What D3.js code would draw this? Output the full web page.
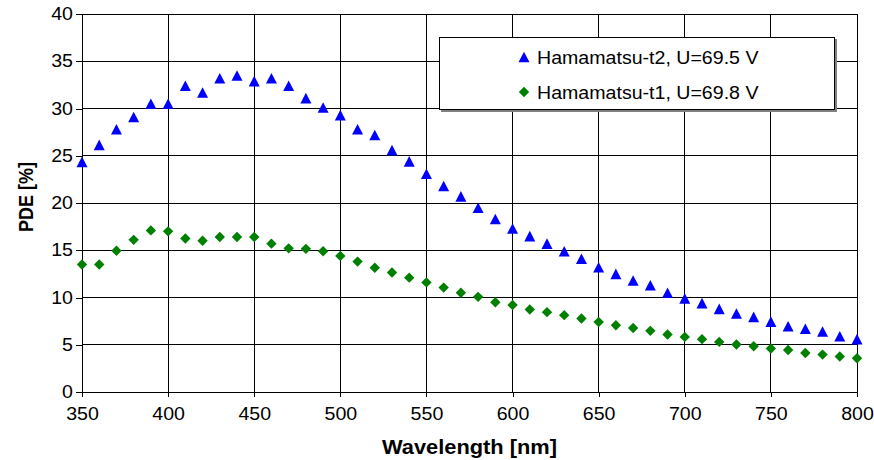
<!DOCTYPE html>
<html>
<head>
<meta charset="utf-8">
<script src="https://cdn.jsdelivr.net/npm/d3@7"></script>
<style>
  html, body { margin: 0; padding: 0; background: #fff; }
  svg { display: block; font-family: "Liberation Sans", Arial, sans-serif; }
</style>
</head>
<body>
<svg id="chart" width="874" height="460"></svg>
<script>
// Photon detection efficiency vs. wavelength for two Hamamatsu devices
const wavelengths = [350,360,370,380,390,400,410,420,430,440,450,460,470,480,490,500,
  510,520,530,540,550,560,570,580,590,600,610,620,630,640,650,660,670,680,690,700,
  710,720,730,740,750,760,770,780,790,800];

const pdeT2 = [24.35,26.15,27.8,29.1,30.5,30.5,32.4,31.7,33.2,33.5,32.9,33.2,32.4,31.1,30.1,29.3,
  27.8,27.2,25.6,24.4,23.1,21.8,20.7,19.5,18.3,17.3,16.5,15.7,14.9,14.1,13.2,12.5,11.8,11.3,10.5,9.9,
  9.4,8.8,8.3,7.95,7.45,6.95,6.7,6.4,5.9,5.6];

const pdeT1 = [13.5,13.5,14.95,16.1,17.1,17.0,16.25,16.0,16.4,16.4,16.4,15.7,15.2,15.15,14.9,14.4,
  13.8,13.15,12.65,12.1,11.6,11.05,10.5,10.07,9.5,9.2,8.73,8.45,8.13,7.78,7.4,7.07,6.78,6.47,6.08,5.83,
  5.59,5.3,5.02,4.84,4.6,4.45,4.13,3.96,3.75,3.57];

const seriesNames = ["Hamamatsu-t2, U=69.5 V", "Hamamatsu-t1, U=69.8 V"];
const xTicks = [350,400,450,500,550,600,650,700,750,800];
const yTicks = [0,5,10,15,20,25,30,35,40];
const xTitle = "Wavelength [nm]";
const yTitle = "PDE [%]";

const svg = d3.select("#chart");
const W = 874, H = 460;
const plot = { left: 82, right: 857, top: 14, bottom: 392 };
const sx = 1.12; // horizontal text stretch

const x = d3.scaleLinear().domain([350, 800]).range([plot.left, plot.right]);
const y = d3.scaleLinear().domain([0, 40]).range([plot.bottom, plot.top]);

svg.append("rect").attr("width", W).attr("height", H).attr("fill", "#fff");

// grid
const grid = svg.append("g").attr("shape-rendering", "crispEdges")
  .attr("stroke", "#000").attr("stroke-width", 1);
grid.selectAll("line.h").data(yTicks).join("line")
  .attr("x1", plot.left).attr("x2", plot.right)
  .attr("y1", d => y(d)).attr("y2", d => y(d));
grid.selectAll("line.v").data(xTicks).join("line")
  .attr("y1", plot.top).attr("y2", plot.bottom)
  .attr("x1", d => x(d)).attr("x2", d => x(d));

// axes
const xAxis = svg.append("g")
  .attr("transform", `translate(0,${plot.bottom})`)
  .call(d3.axisBottom(x).tickValues(xTicks).tickSize(5).tickPadding(6).tickSizeOuter(0));
const yAxis = svg.append("g")
  .attr("transform", `translate(${plot.left},0)`)
  .call(d3.axisLeft(y).tickValues(yTicks).tickSize(6).tickSizeOuter(0));

[xAxis, yAxis].forEach(a => {
  a.select(".domain").attr("stroke", "#000").attr("shape-rendering", "crispEdges");
  a.selectAll(".tick line").attr("stroke", "#000").attr("shape-rendering", "crispEdges");
  a.selectAll(".tick text").attr("fill", "#000")
    .attr("font-size", "17.5px")
    .attr("font-family", "'Liberation Sans', Arial, sans-serif");
});
xAxis.selectAll(".tick text").attr("transform", `scale(${sx},1)`).attr("dy", "0.95em");
yAxis.selectAll(".tick text").attr("x", -9 / sx).attr("transform", `scale(${sx},1)`);

// axis titles
svg.append("text")
  .attr("transform", `translate(${(plot.left + plot.right) / 2},454) scale(${sx},1)`)
  .attr("text-anchor", "middle")
  .attr("font-size", "19.5px").attr("font-weight", "bold")
  .text(xTitle);
svg.append("text")
  .attr("transform", `translate(33,197) rotate(-90) scale(1,${sx})`)
  .attr("text-anchor", "middle")
  .attr("font-size", "18px").attr("font-weight", "bold")
  .text(yTitle);

// markers
const triPath = (cx, cy) => `M${cx},${cy - 5.3}L${cx + 5.5},${cy + 5.3}L${cx - 5.5},${cy + 5.3}Z`;
const diaPath = (cx, cy) => `M${cx},${cy - 5.2}L${cx + 5.2},${cy}L${cx},${cy + 5.2}L${cx - 5.2},${cy}Z`;

svg.append("g").selectAll("path").data(wavelengths.map((w, i) => [w, pdeT1[i]])).join("path")
  .attr("d", d => diaPath(x(d[0]), y(d[1])))
  .attr("fill", "#008000");
svg.append("g").selectAll("path").data(wavelengths.map((w, i) => [w, pdeT2[i]])).join("path")
  .attr("d", d => triPath(x(d[0]), y(d[1])))
  .attr("fill", "#0000ff");

// legend
const lg = svg.append("g");
lg.append("rect").attr("x", 441).attr("y", 39).attr("width", 396).attr("height", 73)
  .attr("fill", "#808080");
lg.append("rect").attr("x", 439.5).attr("y", 37.5).attr("width", 395).attr("height", 72)
  .attr("fill", "#fff").attr("stroke", "#000").attr("stroke-width", 1);
lg.append("path").attr("d", triPath(524, 57)).attr("fill", "#0000ff");
lg.append("path").attr("d", diaPath(524, 92)).attr("fill", "#008000");
seriesNames.forEach((name, i) => {
  lg.append("text")
    .attr("transform", `translate(537,${63.5 + i * 35}) scale(${sx},1)`)
    .attr("font-size", "17.5px")
    .text(name);
});
</script>
</body>
</html>
